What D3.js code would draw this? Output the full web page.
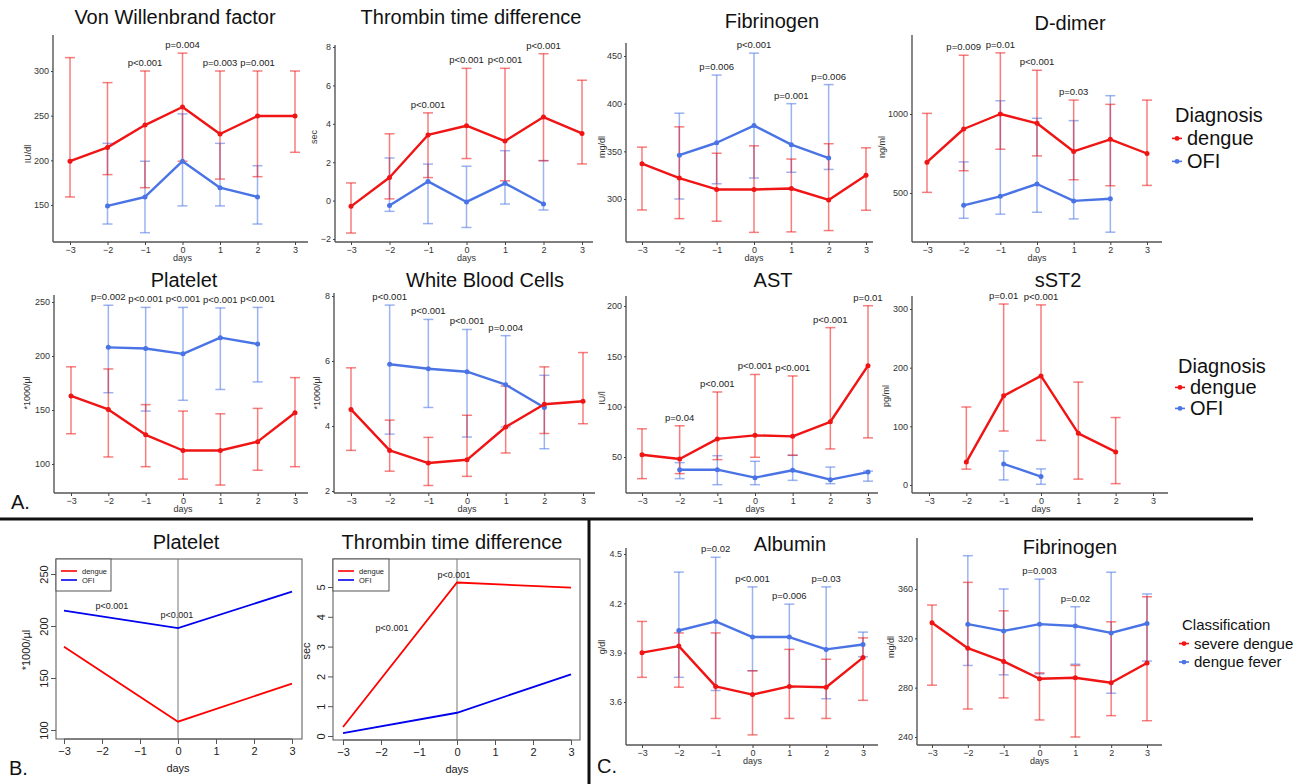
<!DOCTYPE html>
<html><head><meta charset="utf-8">
<script src="https://cdn.jsdelivr.net/npm/d3@7"></script>
<style>body{margin:0;background:#fff} svg{display:block;font-family:"Liberation Sans",Arial,sans-serif}</style>
</head><body><svg id="c" width="1298" height="784"></svg>
<script>
const days = [-3,-2,-1,0,1,2,3];

// Von Willenbrand factor
const vwfDengueMean = [199,214.5,239.5,259.7,229.5,249.6,249.6];
const vwfDengueLow  = [159,184,169.4,199,179,181.7,209];
const vwfDengueHigh = [315,287,300,320,300,300,300];
const vwfOfiMean = [null,149,159,199,169.4,159,null];
const vwfOfiLow  = [null,128.7,119,149,149,128.7,null];
const vwfOfiHigh = [null,219,199,252,219,194,null];
const vwfP = [null,null,"p<0.001","p=0.004","p=0.003","p=0.001",null];

// Thrombin time difference
const thrDengueMean = [-0.3,1.2,3.42,3.9,3.1,4.35,3.5];
const thrDengueLow  = [-1.69,0.09,1.2,2.19,1.03,2.08,1.91];
const thrDengueHigh = [0.92,3.48,4.57,6.89,6.89,7.65,6.27];
const thrOfiMean = [null,-0.25,1.0,-0.07,0.9,-0.18,null];
const thrOfiLow  = [null,-0.56,-1.2,-1.4,-0.18,-0.49,null];
const thrOfiHigh = [null,2.22,1.9,1.79,2.6,2.08,null];
const thrP = [null,null,"p<0.001","p<0.001","p<0.001","p<0.001",null];

// Fibrinogen (A)
const fibDengueMean = [337,322,310,310,311,299,325];
const fibDengueLow  = [288.5,279.4,276.7,265,265.5,266.9,288.2];
const fibDengueHigh = [354.4,375.7,348,355.8,341.9,358,353.7];
const fibOfiMean = [null,346,359,377,357,343,null];
const fibOfiLow  = [null,300,316,322,328,331,null];
const fibOfiHigh = [null,390,430,453,400,420,null];
const fibP = [null,null,"p=0.006","p<0.001","p=0.001","p=0.006",null];

// D-dimer
const ddDengueMean = [695,905,1000,941,763,840,750];
const ddDengueLow  = [504,641,777,735,584,546,548];
const ddDengueHigh = [1004,1372,1387,1277,1088,1061,1088];
const ddOfiMean = [null,422,479,557,450,464,null];
const ddOfiLow  = [null,340,366,378,336,252,null];
const ddOfiHigh = [null,697,1084,973,958,1116,null];
const ddP = [null,"p=0.009","p=0.01","p<0.001","p=0.03",null,null];

// Platelet (A)
const pltDengueMean = [163,150.5,127,112.5,112.5,120.7,147.4];
const pltDengueLow  = [128,106.5,97.5,86,80.5,94.2,97.5];
const pltDengueHigh = [190,188,155,149,146.5,151.5,180];
const pltOfiMean = [null,208,207,202,217,211,null];
const pltOfiLow  = [null,166,149,159,169,176,null];
const pltOfiHigh = [null,247,245,245,244.5,245,null];
const pltP = [null,"p=0.002","p<0.001","p<0.001","p<0.001","p<0.001",null];

// White Blood Cells
const wbcDengueMean = [4.51,3.25,2.86,2.96,3.97,4.67,4.76];
const wbcDengueLow  = [3.25,2.61,2.17,2.45,3.17,3.77,4.07];
const wbcDengueHigh = [5.79,4.18,3.65,4.33,5.23,5.82,6.26];
const wbcOfiMean = [null,5.9,5.76,5.67,5.27,4.57,null];
const wbcOfiLow  = [null,3.75,4.57,3.66,3.97,3.3,null];
const wbcOfiHigh = [null,7.72,7.28,6.97,6.78,5.56,null];
const wbcP = [null,"p<0.001","p<0.001","p<0.001","p=0.004",null,null];

// AST
const astDengueMean = [52.3,48,68,71.5,70.5,85,140.7];
const astDengueLow  = [28.5,33.5,47.4,49.7,51.7,58,69];
const astDengueHigh = [78,81,114.6,132,130.5,178.5,200.3];
const astOfiMean = [null,37.4,37.4,29.5,36.8,27.5,35];
const astOfiLow  = [null,28.5,22.5,22.5,26.8,23.5,26];
const astOfiHigh = [null,44.4,51.3,45.7,51.7,40,36];
const astP = [null,"p=0.04","p<0.001","p<0.001","p<0.001","p<0.001","p=0.01"];

// sST2
const sst2DengueMean = [null,39,152,186,88,56.4,null];
const sst2DengueLow  = [null,27,92,76,10,2.3,null];
const sst2DengueHigh = [null,133,308.5,307,175.4,115,null];
const sst2OfiMean = [null,null,36,14.3,null,null,null];
const sst2OfiLow  = [null,null,8.6,1.2,null,null,null];
const sst2OfiHigh = [null,null,58,27.4,null,null,null];
const sst2P = [null,null,"p=0.01","p<0.001",null,null,null];

// Albumin (C)
const albSevereMean = [3.9,3.94,3.695,3.645,3.695,3.69,3.87];
const albSevereLow  = [3.75,3.69,3.5,3.4,3.5,3.5,3.61];
const albSevereHigh = [4.09,4.02,4.02,3.79,3.92,3.86,3.99];
const albFeverMean = [null,4.035,4.09,3.995,3.995,3.92,3.95];
const albFeverLow  = [null,3.75,3.67,3.79,3.69,3.62,3.875];
const albFeverHigh = [null,4.39,4.48,4.3,4.195,4.3,4.025];
const albP = [null,null,"p=0.02","p<0.001","p=0.006","p=0.03",null];

// Fibrinogen (C)
const fibcSevereMean = [332.6,312,301.3,287.2,288,284,300];
const fibcSevereLow  = [282,262.7,271.7,253.8,240,257.3,253.2];
const fibcSevereHigh = [347,365.4,342.3,292,298,333.4,353.7];
const fibcFeverMean = [null,331.5,326,331.5,330,324.4,332];
const fibcFeverLow  = [null,298,290.4,291.2,299,275.5,301.6];
const fibcFeverHigh = [null,387,360,368,345.6,373.6,356];
const fibcP = [null,null,null,"p=0.003","p=0.02",null,null];

// Panel B
const bDays = [-3,0,3];
const bPlateletDengue = [180,108,144.6];
const bPlateletOfi = [214.7,198,233];
const bThrombinDengue = [0.3,5.15,4.98];
const bThrombinOfi = [0.1,0.78,2.07];
const bPlateletP = ["p<0.001","p<0.001"];
const bThrombinP = ["p<0.001","p<0.001"];

const RED = "#f01414", BLUE = "#4a74e6";
const svg = d3.select("#c");
const fmt = d3.format("");

function panelA(c){
  const g = svg.append("g");
  const x = d3.scaleLinear().domain([-3,3]).range(c.xr);
  const y = d3.scaleLinear().domain([c.yc[0][0],c.yc[1][0]]).range([c.yc[0][1],c.yc[1][1]]);
  g.append("line").attr("x1",c.ax).attr("x2",c.ax).attr("y1",c.top).attr("y2",c.ay)
    .attr("stroke","#555").attr("stroke-width",1.4);
  g.append("line").attr("x1",c.ax).attr("x2",c.right).attr("y1",c.ay).attr("y2",c.ay)
    .attr("stroke","#555").attr("stroke-width",1.4);
  const ya = g.append("g").attr("transform",`translate(${c.ax},0)`)
    .call(d3.axisLeft(y).tickValues(c.ticks).tickSize(2).tickPadding(2).tickSizeOuter(0).tickFormat(fmt));
  ya.select(".domain").remove();
  ya.selectAll("line").attr("stroke","#444");
  ya.selectAll("text").attr("font-size",9).attr("fill","#333").style("font-family","Liberation Sans, Arial, sans-serif");
  const xa = g.append("g").attr("transform",`translate(0,${c.ay})`)
    .call(d3.axisBottom(x).tickValues(days).tickSize(3).tickPadding(2).tickSizeOuter(0).tickFormat(fmt));
  xa.select(".domain").remove();
  xa.selectAll("line").attr("stroke","#444");
  xa.selectAll("text").attr("font-size",9).attr("fill","#333").style("font-family","Liberation Sans, Arial, sans-serif");

  g.append("text").attr("x",(c.xr[0]+c.xr[1])/2).attr("y",c.ay+19).attr("text-anchor","middle")
    .attr("font-size",9).attr("fill","#333").text("days");
  g.append("text").attr("transform",`translate(${c.ux},${c.uy}) rotate(-90)`).attr("text-anchor","middle")
    .attr("dominant-baseline","middle").attr("font-size",9).attr("fill","#333").text(c.unit);
  g.append("text").attr("x",c.tx).attr("y",c.ty).attr("text-anchor","middle").attr("font-size",20)
    .attr("fill","#111").text(c.title);

  const sets = c.series.map(s=>({color:s.color, pts:days.map((d,i)=>({d,m:s.mean[i],lo:s.low[i],hi:s.high[i]})).filter(p=>p.m!=null)}));
  sets.forEach(s=>{
    const eb = g.append("g").attr("stroke",s.color).attr("stroke-opacity",0.55).attr("stroke-width",1.5);
    eb.selectAll(".v").data(s.pts).join("line").attr("x1",p=>x(p.d)).attr("x2",p=>x(p.d))
      .attr("y1",p=>y(p.lo)).attr("y2",p=>y(p.hi));
    ["lo","hi"].forEach(k=>{
      eb.selectAll(".c"+k).data(s.pts).join("line").attr("x1",p=>x(p.d)-5).attr("x2",p=>x(p.d)+5)
        .attr("y1",p=>y(p[k])).attr("y2",p=>y(p[k]));
    });
  });
  sets.forEach(s=>{
    g.append("path").datum(s.pts).attr("fill","none").attr("stroke",s.color).attr("stroke-width",2.4)
      .attr("stroke-linejoin","round").attr("d",d3.line().x(p=>x(p.d)).y(p=>y(p.m)));
    g.selectAll(null).data(s.pts).join("circle").attr("cx",p=>x(p.d)).attr("cy",p=>y(p.m)).attr("r",2.5)
      .attr("fill",s.color);
  });
  days.forEach((d,i)=>{
    if(!c.p[i]) return;
    const hs = c.series.map(s=>s.high[i]).filter(v=>v!=null);
    const top = d3.min(hs.map(v=>y(v)));
    g.append("text").attr("x",x(d)).attr("y",top-5).attr("text-anchor","middle").attr("font-size",9.5)
      .attr("fill","#222").text(c.p[i]);
  });
}

function legendA(lx,ly,title,labels,fs,gap){
  const g = svg.append("g");
  g.append("text").attr("x",lx).attr("y",ly).attr("font-size",fs).attr("fill","#111").text(title);
  labels.forEach((t,i)=>{
    const yy = ly + gap*(i+1);
    const col = i===0?RED:BLUE;
    g.append("line").attr("x1",lx-3).attr("x2",lx+7).attr("y1",yy-fs*0.33).attr("y2",yy-fs*0.33)
      .attr("stroke",col).attr("stroke-width",1.6);
    g.append("circle").attr("cx",lx+2).attr("cy",yy-fs*0.33).attr("r",2.4).attr("fill",col);
    g.append("text").attr("x",lx+12).attr("y",yy).attr("font-size",fs).attr("fill","#111").text(t);
  });
}

function panelB(c){
  const g = svg.append("g");
  const x = d3.scaleLinear().domain([-3,3]).range(c.xr);
  const y = d3.scaleLinear().domain([c.yc[0][0],c.yc[1][0]]).range([c.yc[0][1],c.yc[1][1]]);
  g.append("rect").attr("x",c.box[0]).attr("y",c.box[1]).attr("width",c.box[2]-c.box[0]).attr("height",c.box[3]-c.box[1])
    .attr("fill","none").attr("stroke","#555").attr("stroke-width",1);
  const xa = g.append("g").attr("transform",`translate(0,${c.box[3]})`)
    .call(d3.axisBottom(x).tickValues(days).tickSize(5).tickPadding(3).tickSizeOuter(0).tickFormat(fmt));
  xa.select(".domain").attr("stroke","#555").attr("d",`M${c.xr[0]},0H${c.xr[1]}`);
  xa.selectAll("line").attr("stroke","#555");
  xa.selectAll("text").attr("font-size",11).attr("fill","#222").style("font-family","Liberation Sans, Arial, sans-serif");
  const ya = g.append("g").attr("transform",`translate(${c.box[0]},0)`)
    .call(d3.axisLeft(y).tickValues(c.ticks).tickSize(5).tickSizeOuter(0).tickFormat(fmt));
  ya.select(".domain").remove();
  ya.selectAll("line").attr("stroke","#555");
  ya.selectAll("text").attr("x",0).attr("dy",0).attr("text-anchor","middle")
    .attr("transform","translate(-8,0) rotate(-90)").attr("font-size",11).attr("fill","#222")
    .style("font-family","Liberation Sans, Arial, sans-serif");
  g.append("line").attr("x1",x(0)).attr("x2",x(0)).attr("y1",c.box[1]).attr("y2",c.box[3])
    .attr("stroke","#777").attr("stroke-width",1);
  const ln = d3.line().x((v,i)=>x(bDays[i])).y(v=>y(v));
  g.append("path").datum(c.dengue).attr("fill","none").attr("stroke","#ff0000").attr("stroke-width",1.8).attr("d",ln);
  g.append("path").datum(c.ofi).attr("fill","none").attr("stroke","#0000ee").attr("stroke-width",1.8).attr("d",ln);
  c.p.forEach((t,i)=>{
    g.append("text").attr("x",x(c.pAt[i][0])).attr("y",y(c.pAt[i][1])).attr("text-anchor","middle")
      .attr("font-size",9).attr("fill","#222").text(t);
  });
  const lg = g.append("g");
  lg.append("rect").attr("x",c.box[0]).attr("y",c.box[1]).attr("width",c.lw).attr("height",32)
    .attr("fill","#fff").attr("stroke","#555").attr("stroke-width",1);
  [["dengue","#ff0000",12],["OFI","#0000ee",21]].forEach(([t,col,dy])=>{
    lg.append("line").attr("x1",c.box[0]+5).attr("x2",c.box[0]+21).attr("y1",c.box[1]+dy).attr("y2",c.box[1]+dy)
      .attr("stroke",col).attr("stroke-width",1.6);
    lg.append("text").attr("x",c.box[0]+26).attr("y",c.box[1]+dy+2.6).attr("font-size",7.5).attr("fill","#222").text(t);
  });
  g.append("text").attr("x",(c.xr[0]+c.xr[1])/2).attr("y",c.box[3]+33).attr("text-anchor","middle")
    .attr("font-size",11).attr("fill","#222").text("days");
  g.append("text").attr("transform",`translate(${c.ux},${c.uy}) rotate(-90)`).attr("text-anchor","middle")
    .attr("dominant-baseline","middle").attr("font-size",11).attr("fill","#222").text(c.unit);
  g.append("text").attr("x",c.tx).attr("y",c.ty).attr("text-anchor","middle").attr("font-size",20)
    .attr("fill","#111").text(c.title);
}

const S = (m,l,h,color)=>({mean:m,low:l,high:h,color});

panelA({title:"Von Willenbrand factor",tx:175,ty:24,unit:"IU/dl",ux:29,uy:154,ax:53,ay:242,top:35,right:308,
  xr:[70,295],yc:[[150,205],[300,71]],ticks:[150,200,250,300],p:vwfP,
  series:[S(vwfOfiMean,vwfOfiLow,vwfOfiHigh,BLUE),S(vwfDengueMean,vwfDengueLow,vwfDengueHigh,RED)]});
panelA({title:"Thrombin time difference",tx:471,ty:24,unit:"sec",ux:315,uy:137,ax:335,ay:242,top:45,right:593,
  xr:[351,582],yc:[[-2,239],[8,47]],ticks:[-2,0,2,4,6,8],p:thrP,
  series:[S(thrOfiMean,thrOfiLow,thrOfiHigh,BLUE),S(thrDengueMean,thrDengueLow,thrDengueHigh,RED)]});
panelA({title:"Fibrinogen",tx:772,ty:28,unit:"mg/dl",ux:603,uy:147,ax:626,ay:242,top:43,right:873,
  xr:[642,866],yc:[[300,199],[450,56]],ticks:[300,350,400,450],p:fibP,
  series:[S(fibOfiMean,fibOfiLow,fibOfiHigh,BLUE),S(fibDengueMean,fibDengueLow,fibDengueHigh,RED)]});
panelA({title:"D-dimer",tx:1070,ty:30,unit:"ng/ml",ux:883,uy:147,ax:912,ay:242,top:35,right:1162,
  xr:[927,1147],yc:[[500,193],[1000,114]],ticks:[500,1000],p:ddP,
  series:[S(ddOfiMean,ddOfiLow,ddOfiHigh,BLUE),S(ddDengueMean,ddDengueLow,ddDengueHigh,RED)]});
panelA({title:"Platelet",tx:184,ty:287,unit:"*1000/µl",ux:28,uy:393,ax:54,ay:493,top:295,right:308,
  xr:[71,295],yc:[[100,464],[250,302]],ticks:[100,150,200,250],p:pltP,
  series:[S(pltOfiMean,pltOfiLow,pltOfiHigh,BLUE),S(pltDengueMean,pltDengueLow,pltDengueHigh,RED)]});
panelA({title:"White Blood Cells",tx:485,ty:287,unit:"*1000/µl",ux:318,uy:393,ax:334,ay:493,top:293,right:595,
  xr:[351,583],yc:[[2,491],[8,296]],ticks:[2,4,6,8],p:wbcP,
  series:[S(wbcOfiMean,wbcOfiLow,wbcOfiHigh,BLUE),S(wbcDengueMean,wbcDengueLow,wbcDengueHigh,RED)]});
panelA({title:"AST",tx:773,ty:287,unit:"IU/l",ux:603,uy:398,ax:626,ay:493,top:296,right:878,
  xr:[642,868],yc:[[50,457],[200,306]],ticks:[50,100,150,200],p:astP,
  series:[S(astOfiMean,astOfiLow,astOfiHigh,BLUE),S(astDengueMean,astDengueLow,astDengueHigh,RED)]});
panelA({title:"sST2",tx:1058,ty:287,unit:"pg/ml",ux:887,uy:396,ax:912,ay:493,top:296,right:1168,
  xr:[929,1153],yc:[[0,485],[300,309]],ticks:[0,100,200,300],p:sst2P,
  series:[S(sst2OfiMean,sst2OfiLow,sst2OfiHigh,BLUE),S(sst2DengueMean,sst2DengueLow,sst2DengueHigh,RED)]});
panelA({title:"Albumin",tx:790,ty:551,unit:"g/dl",ux:603,uy:647,ax:626,ay:745,top:548,right:878,
  xr:[642,863],yc:[[3.6,702],[4.5,554]],ticks:[3.6,3.9,4.2,4.5],p:albP,
  series:[S(albFeverMean,albFeverLow,albFeverHigh,BLUE),S(albSevereMean,albSevereLow,albSevereHigh,RED)]});
panelA({title:"Fibrinogen",tx:1070,ty:554,unit:"mg/dl",ux:892,uy:647,ax:917,ay:745,top:538,right:1162,
  xr:[932,1147],yc:[[240,737],[360,589]],ticks:[240,280,320,360],p:fibcP,
  series:[S(fibcFeverMean,fibcFeverLow,fibcFeverHigh,BLUE),S(fibcSevereMean,fibcSevereLow,fibcSevereHigh,RED)]});

legendA(1175,122,"Diagnosis",["dengue","OFI"],20,23);
legendA(1178,373,"Diagnosis",["dengue","OFI"],20,21);
legendA(1182,630,"Classification",["severe dengue","dengue fever"],15,18.5);

panelB({title:"Platelet",tx:186,ty:549,unit:"*1000/µl",ux:27,uy:650,box:[56,559,302,739],lw:55,
  xr:[64,292],yc:[[100,730],[250,574]],ticks:[100,150,200,250],dengue:bPlateletDengue,ofi:bPlateletOfi,
  p:bPlateletP,pAt:[[-1.74,216.3],[-0.03,207.7]]});
panelB({title:"Thrombin time difference",tx:452,ty:549,unit:"sec",ux:307,uy:651,box:[333,559,580,740],lw:56,
  xr:[343,571],yc:[[0,736],[5,587]],ticks:[0,1,2,3,4,5],dengue:bThrombinDengue,ofi:bThrombinOfi,
  p:bThrombinP,pAt:[[-1.71,3.52],[-0.08,5.3]]});

svg.append("line").attr("x1",0).attr("x2",1253).attr("y1",519).attr("y2",519).attr("stroke","#111").attr("stroke-width",3);
svg.append("line").attr("x1",589).attr("x2",589).attr("y1",519).attr("y2",784).attr("stroke","#111").attr("stroke-width",3);
svg.append("text").attr("x",11).attr("y",509).attr("font-size",20).attr("fill","#111").text("A.");
svg.append("text").attr("x",9).attr("y",775).attr("font-size",20).attr("fill","#111").text("B.");
svg.append("text").attr("x",597).attr("y",773).attr("font-size",20).attr("fill","#111").text("C.");
</script></body></html>
